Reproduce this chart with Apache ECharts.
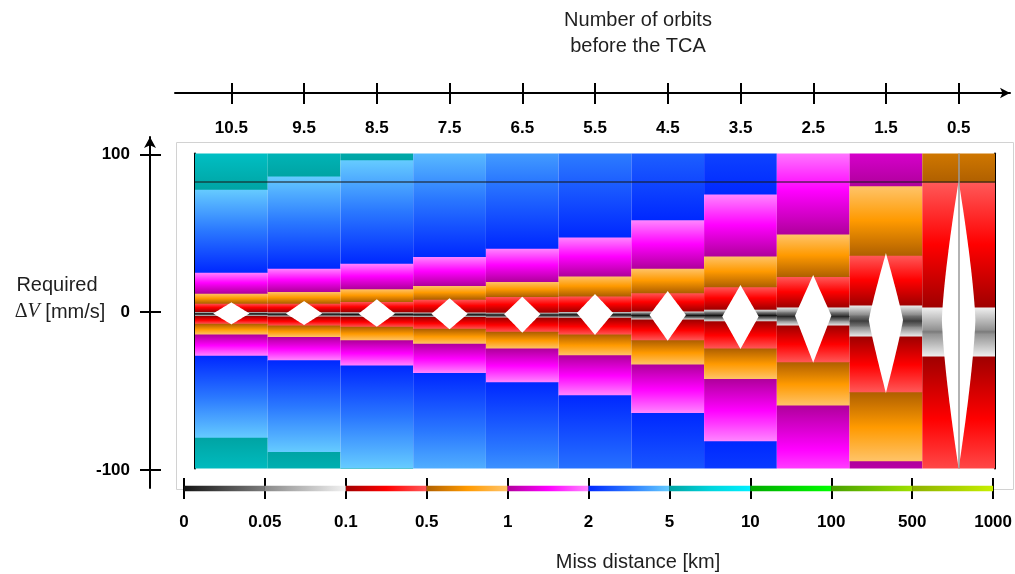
<!DOCTYPE html>
<html><head><meta charset="utf-8">
<script src="https://cdn.jsdelivr.net/npm/echarts@6/dist/echarts.min.js"></script>
<style>html,body{margin:0;padding:0;background:#fff}#c{width:1015px;height:574px}</style>
</head><body><div id="c"></div>
<script>
// ---------------- data ----------------
const orbitLabels = ['10.5','9.5','8.5','7.5','6.5','5.5','4.5','3.5','2.5','1.5','0.5'];
const distTicks = ['0','0.05','0.1','0.5','1','2','5','10','100','500','1000'];
const dvTicks = [-100, 0, 100];
// ΔV (mm/s) where the miss distance is smallest in each column, and that smallest miss distance (km)
const centerDV = [-1.9, -2.1, -2.25, -2.4, -2.6, -2.5, -2.85, -2.85, -3.5, -6.4, -13.3];
const centerDist = [0, 0, 0, 0, 0, 0, 0, 0, 0.01, 0.02, 0.05];
// ΔV where the miss distance reaches 0.1, 0.5, 1, 2, 5, 10 km (above the minimum)
const upperBounds = [
  [-0.4, 4.9, 11.2, 24.6, 77.3, 158],
  [-0.5, 4.9, 12.3, 27.1, 85.7, 175],
  [-0.6, 5.9, 14.0, 30.3, 95.9, 195],
  [-0.7, 7.4, 16.1, 34.5, 108, 220],
  [-0.8, 9.1, 18.6, 39.8, 125, 252],
  [-0.4, 9.5, 22.2, 47.0, 148, 300],
  [0.0, 11.6, 27.1, 57.8, 180, 363],
  [1.1, 15.4, 34.9, 74.3, 232, 468],
  [2.5, 21.8, 48.9, 104, 322, 650],
  [3.8, 35.4, 79.4, 167, 520, 1050],
  [2.5, 81.9, 175, 360, 900, 1800]
];
// ΔV where the miss distance reaches 0.1, 0.5, 1, 2, 5, 10 km (below the minimum)
const lowerBounds = [
  [-3.4, -8.3, -15.2, -28.6, -80.8, -162],
  [-3.7, -9.5, -16.7, -31.5, -89.7, -180],
  [-3.9, -10.3, -18.8, -34.9, -99.9, -200],
  [-4.1, -11.6, -21.0, -39.6, -113, -225],
  [-4.4, -13.5, -24.1, -45.5, -130, -258],
  [-4.6, -15.2, -28.4, -53.8, -155, -306],
  [-5.7, -18.9, -34.3, -65.0, -187, -370],
  [-6.8, -24.1, -43.4, -83.0, -240, -476],
  [-9.5, -32.8, -60.3, -115, -333, -660],
  [-16.5, -51.9, -95.7, -183, -540, -1070],
  [-29.2, -108, -200, -385, -925, -1850]
];
// white diamonds: ΔV of the top tip, the widest point and the bottom tip
const diamondTop = [5.5, 6.3, 7.4, 8.1, 9.1, 10.8, 12.7, 16.5, 22.9, 36.8, 82.5];
const diamondMid = [-1.6, -1.6, -1.7, -1.8, -2.0, -1.3, -2.5, -3.5, -3.0, -5.7, -5.7];
const diamondBottom = [-8.5, -8.9, -10.0, -11.6, -13.8, -15.2, -18.9, -24.1, -32.8, -52.1, -100];
const refLineDV = [82];

// ---------------- styles ----------------
const FONT = 'Liberation Sans';
const segColors = [
  ['#141414', '#4a4a4a', '#7c7c7c'],
  ['#8a8a8a', '#bdbdbd', '#f2f2f2'],
  ['#a00000', '#ff0000', '#ff5a5a'],
  ['#b06000', '#ff9a00', '#ffc46a'],
  ['#b0009c', '#ff00ff', '#ff88ff'],
  ['#0028ff', '#2a78ff', '#66ccff'],
  ['#00a4a4', '#00d4dc', '#00f0ff'],
  ['#00a800', '#00d400', '#00ff00'],
  ['#48a000', '#70c000', '#a0e000'],
  ['#8cb000', '#a8d000', '#c8f000']
];
const DIAMOND_HALF = [0.25,0.25,0.25,0.25,0.25,0.25,0.25,0.25,0.25,0.235,0.23];
const LENS_EXP = [1,1,1,1,1,1,1,1,1,1.1,1.35];

const distVals = distTicks.map(Number);
function hex2rgb(h){ return [parseInt(h.substr(1,2),16), parseInt(h.substr(3,2),16), parseInt(h.substr(5,2),16)]; }
function segColor(s, f){
  f = Math.max(0, Math.min(1, f));
  const c = segColors[s].map(hex2rgb);
  let a, b, t;
  if (f < 0.5) { a = c[0]; b = c[1]; t = f * 2; } else { a = c[1]; b = c[2]; t = (f - 0.5) * 2; }
  return 'rgb(' + [0,1,2].map(k => Math.round(a[k] + (b[k] - a[k]) * t)).join(',') + ')';
}
function bandColor(band, d){
  const s = band === 0 ? (d <= distVals[1] ? 0 : 1) : band + 1;
  return segColor(s, (d - distVals[s]) / (distVals[s+1] - distVals[s]));
}

const bandItems = [];
orbitLabels.forEach((_, c) => { [1, -1].forEach(side => { for (let b = 0; b < 6; b++) bandItems.push([c, side, b]); }); });

function renderBand(params, api){
  const col = api.value(0), side = api.value(1), band = api.value(2);
  const cs = params.coordSys;
  const colW = cs.width / orbitLabels.length;
  const bounds = [centerDV[col]].concat(side > 0 ? upperBounds[col] : lowerBounds[col]);
  const dRange = [centerDist[col]].concat(distVals.slice(2, 8));
  const p0 = api.coord([col, bounds[band]]), p1 = api.coord([col, bounds[band + 1]]);
  let top = Math.min(p0[1], p1[1]) - 0.4, bot = Math.max(p0[1], p1[1]) + 0.4;
  top = Math.max(top, cs.y); bot = Math.min(bot, cs.y + cs.height);
  if (bot <= top) return null;
  const stops = [];
  for (let k = 0; k <= 10; k++) {
    const d = dRange[band] + (dRange[band + 1] - dRange[band]) * k / 10;
    stops.push({offset: k / 10, color: bandColor(band, d)});
  }
  return {type: 'rect', shape: {x: p0[0] - colW / 2, y: top, width: colW, height: bot - top},
    style: {fill: new echarts.graphic.LinearGradient(0, p0[1], 0, p1[1], stops, true)}};
}

function renderDiamond(params, api){
  const i = api.value(0);
  const cs = params.coordSys;
  const w = cs.width / orbitLabels.length * DIAMOND_HALF[i];
  const cx = api.coord([i, 0])[0];
  const yT = api.coord([i, diamondTop[i]])[1], yM = api.coord([i, diamondMid[i]])[1], yB = api.coord([i, diamondBottom[i]])[1];
  const p = LENS_EXP[i], N = 20, right = [];
  for (let k = 0; k <= N; k++) { const s = 1 - k / N; right.push([cx + w * (1 - Math.pow(s, p)), yT + (yM - yT) * k / N]); }
  for (let k = 1; k <= N; k++) { const s = k / N; right.push([cx + w * (1 - Math.pow(s, p)), yM + (yB - yM) * k / N]); }
  const left = right.slice(1, -1).reverse().map(q => [2 * cx - q[0], q[1]]);
  return {type: 'polygon', shape: {points: right.concat(left)}, style: {fill: '#ffffff'}};
}

function renderBar(params, api){
  const i = api.value(0);
  const p0 = api.coord([i, 0.63]), p1 = api.coord([i + 1, 0.37]);
  const stops = [];
  for (let k = 0; k <= 10; k++) stops.push({offset: k / 10, color: segColor(i, k / 10)});
  return {type: 'rect', shape: {x: p0[0], y: p0[1], width: p1[0] - p0[0], height: p1[1] - p0[1]},
    style: {fill: new echarts.graphic.LinearGradient(p0[0], 0, p1[0], 0, stops, true)}};
}

const orbitIdx = orbitLabels.map((_, i) => i);
const tickLbl = {fontSize: 17, fontWeight: 'bold', color: '#000', fontFamily: FONT};
const blk = {color: '#000', width: 2};

const chart = echarts.init(document.getElementById('c'), null, {renderer: 'canvas'});
chart.setOption({
  animation: false,
  backgroundColor: '#fff',
  title: [
    {text: 'Number of orbits\nbefore the TCA', left: 638, top: 7, textAlign: 'center', padding: 0,
     textStyle: {fontSize: 20, fontWeight: 'normal', fontFamily: FONT, color: '#1f1f1f', lineHeight: 26}},
    {text: 'Required', left: 57, top: 273, textAlign: 'center', padding: 0,
     textStyle: {fontSize: 20, fontWeight: 'normal', fontFamily: FONT, color: '#1f1f1f', lineHeight: 24}},
    {text: '{d|Δ}{v|V} [mm/s]', left: 60, top: 300, textAlign: 'center', padding: 0,
     textStyle: {fontSize: 20, fontWeight: 'normal', fontFamily: FONT, color: '#1f1f1f', lineHeight: 24,
       rich: {d: {fontSize: 20, fontFamily: 'Liberation Serif', color: '#1f1f1f'},
              v: {fontSize: 20, fontFamily: 'Liberation Serif', fontStyle: 'italic', color: '#1f1f1f'}}}},
    {text: 'Miss distance [km]', left: 638, top: 550, textAlign: 'center', padding: 0,
     textStyle: {fontSize: 20, fontWeight: 'normal', fontFamily: FONT, color: '#1f1f1f', lineHeight: 24}}
  ],
  graphic: [
    {type: 'rect', silent: true, z: -10, shape: {x: 176.5, y: 142.5, width: 837, height: 347},
     style: {fill: 'none', stroke: '#d2d2d2', lineWidth: 1}}
  ],
  grid: [
    {left: 195, right: 20, top: 153.5, height: 315},
    {left: 150, width: 10, top: 137, bottom: 86},
    {left: 175, right: 5, top: 93, height: 10},
    {left: 184, right: 19, top: 478, height: 21}
  ],
  xAxis: [
    {gridIndex: 0, type: 'category', data: orbitLabels, boundaryGap: true, show: false},
    {gridIndex: 1, type: 'value', show: false},
    {gridIndex: 2, type: 'value', position: 'top', min: -0.775, max: 10.705,
     axisLine: {show: true, onZero: false, lineStyle: blk, symbol: ['none', 'arrow'], symbolSize: [8, 10]},
     axisTick: {show: true, inside: false, length: 10, lineStyle: blk, customValues: orbitIdx},
     axisLabel: {show: false}, splitLine: {show: false}},
    {gridIndex: 2, type: 'value', position: 'top', min: -0.775, max: 10.705,
     axisLine: {show: false, onZero: false},
     axisTick: {show: true, inside: true, length: 11, lineStyle: blk, customValues: orbitIdx},
     axisLabel: Object.assign({show: true, inside: true, margin: 27, customValues: orbitIdx,
       formatter: v => orbitLabels[Math.round(v)]}, tickLbl),
     splitLine: {show: false}},
    {gridIndex: 3, type: 'value', position: 'bottom', min: 0, max: 10, interval: 1,
     axisLine: {show: false, onZero: false},
     axisTick: {show: true, inside: true, length: 21, lineStyle: blk},
     axisLabel: Object.assign({margin: 15, formatter: v => distTicks[Math.round(v)]}, tickLbl),
     splitLine: {show: false}}
  ],
  yAxis: [
    {gridIndex: 0, type: 'value', min: -100, max: 100, axisLine: {show: true, onZero: false, lineStyle: blk},
     axisTick: {show: false}, axisLabel: {show: false}, splitLine: {show: false}},
    {gridIndex: 0, type: 'value', position: 'right', min: -100, max: 100, axisLine: {show: true, onZero: false, lineStyle: blk},
     axisTick: {show: false}, axisLabel: {show: false}, splitLine: {show: false}},
    {gridIndex: 1, type: 'value', position: 'left', min: -111.4, max: 111.0,
     axisLine: {show: true, onZero: false, lineStyle: blk, symbol: ['none', 'arrow'], symbolSize: [9, 11]},
     axisTick: {show: true, inside: false, length: 10, lineStyle: blk, customValues: dvTicks},
     axisLabel: Object.assign({margin: 20, customValues: dvTicks}, tickLbl), splitLine: {show: false}},
    {gridIndex: 1, type: 'value', position: 'left', min: -111.4, max: 111.0,
     axisLine: {show: false, onZero: false},
     axisTick: {show: true, inside: true, length: 11, lineStyle: blk, customValues: dvTicks},
     axisLabel: {show: false}, splitLine: {show: false}},
    {gridIndex: 2, type: 'value', show: false},
    {gridIndex: 3, type: 'value', min: 0, max: 1, show: false}
  ],
  series: [
    {type: 'custom', xAxisIndex: 0, yAxisIndex: 0, renderItem: renderBand, data: bandItems, silent: true, z: 2,
     markLine: {silent: true, symbol: 'none', label: {show: false}, animation: false,
       data: [
         {yAxis: refLineDV[0], lineStyle: {color: 'rgba(25,25,25,0.7)', width: 1.5, type: 'solid'}},
         {xAxis: orbitLabels[orbitLabels.length - 1], lineStyle: {color: '#9a9a9a', width: 1.5, type: 'solid'}}
       ]}},
    {type: 'custom', xAxisIndex: 0, yAxisIndex: 0, renderItem: renderDiamond, silent: true, z: 3,
     data: orbitLabels.map((_, i) => [i, diamondMid[i]])},
    {type: 'custom', xAxisIndex: 4, yAxisIndex: 5, renderItem: renderBar, silent: true, z: 2,
     data: distTicks.slice(0, -1).map((_, i) => [i, 0.5])}
  ]
});
</script>
</body></html>
